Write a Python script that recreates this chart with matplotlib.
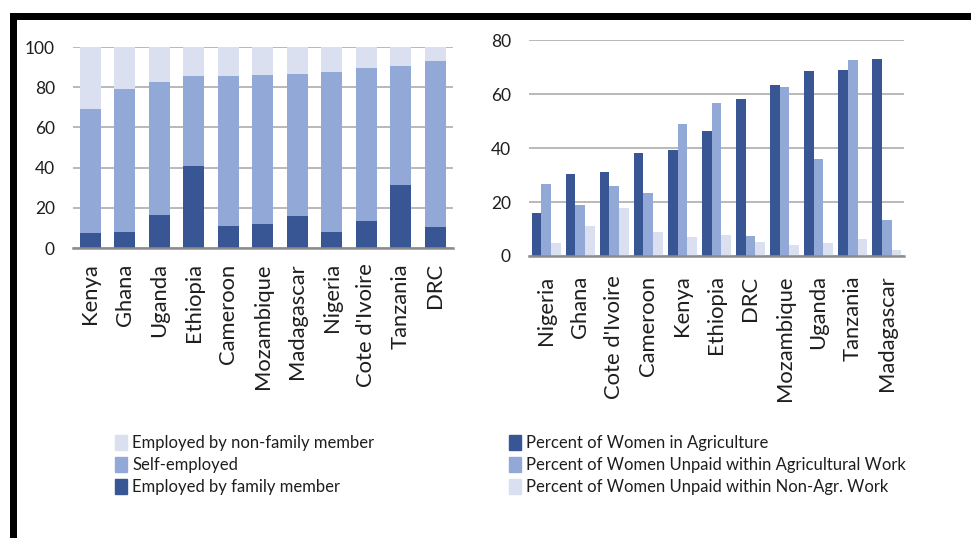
import matplotlib
matplotlib.use("Agg")
import matplotlib.pyplot as plt
import numpy as np
from matplotlib.patches import Rectangle, Patch

plt.rcParams['font.family'] = ['Lato', 'DejaVu Sans']

# Left chart: type of employment (stacked, percent)
pays_gauche = ["Kenya", "Ghana", "Uganda", "Ethiopia", "Cameroon", "Mozambique",
               "Madagascar", "Nigeria", "Cote d'Ivoire", "Tanzania", "DRC"]
par_famille = [7.5, 8, 16.3, 41, 10.8, 12, 15.8, 8, 13.6, 31.4, 10.5]
independant = [61.9, 71.2, 66.4, 44.4, 74.7, 74.2, 70.7, 79.4, 76.1, 59.0, 82.7]
hors_famille = [30.6, 20.8, 17.3, 14.6, 14.5, 13.8, 13.5, 12.6, 10.3, 9.6, 6.8]

# Right chart: grouped bars
pays_droite = ["Nigeria", "Ghana", "Cote d'Ivoire", "Cameroon", "Kenya", "Ethiopia",
               "DRC", "Mozambique", "Uganda", "Tanzania", "Madagascar"]
femmes_agri = [15.8, 30.3, 31.1, 38.3, 39.3, 46.2, 58.1, 63.4, 68.5, 68.9, 73.1]
non_payees_agri = [26.6, 18.8, 26.0, 23.2, 48.8, 56.6, 7.4, 62.5, 36.1, 72.6, 13.2]
non_payees_autre = [4.8, 11.0, 17.7, 9.0, 7.0, 7.9, 5.3, 4.2, 4.8, 6.2, 2.2]

FONCE = "#375693"
MOYEN = "#92A9D8"
CLAIR = "#DAE0F0"
TEXTE = "#1e1e1e"

fig = plt.figure(figsize=(9.71, 5.38), dpi=100)


def style_axe(ax, ymax, pas):
    ax.set_ylim(0, ymax)
    ax.set_xlim(-0.5, 10.5)
    ax.set_yticks(np.arange(0, ymax + 1, pas))
    ax.yaxis.grid(True, color="#a6a6a6", linewidth=1.1)
    ax.set_axisbelow(True)
    for s in ["top", "right", "left"]:
        ax.spines[s].set_visible(False)
    ax.spines["bottom"].set_color("#8c8c8c")
    ax.spines["bottom"].set_linewidth(1.8)
    ax.tick_params(axis="y", length=0, pad=13, labelsize=12.5, colors=TEXTE)
    ax.tick_params(axis="x", length=0, pad=11, labelsize=15.8, colors=TEXTE)


# Graphique de gauche
ax1 = fig.add_axes([0.0752, 0.539, 0.391, 0.3736])
x = np.arange(len(pays_gauche))
ax1.bar(x, par_famille, width=0.61, color=FONCE)
ax1.bar(x, independant, width=0.61, bottom=par_famille, color=MOYEN)
bas = np.array(par_famille) + np.array(independant)
ax1.bar(x, hors_famille, width=0.61, bottom=bas, color=CLAIR)
style_axe(ax1, 100, 20)
ax1.set_xticks(x)
ax1.set_xticklabels(pays_gauche, rotation=90)

# Graphique de droite
ax2 = fig.add_axes([0.5448, 0.5242, 0.386, 0.401])
x2 = np.arange(len(pays_droite))
w = 0.283
ax2.bar(x2 - w, femmes_agri, width=w, color=FONCE)
ax2.bar(x2, non_payees_agri, width=w, color=MOYEN)
ax2.bar(x2 + w, non_payees_autre, width=w, color=CLAIR)
style_axe(ax2, 80, 20)
ax2.set_xticks(x2)
ax2.set_xticklabels(pays_droite, rotation=90)
ax2.tick_params(axis="x", pad=14)

# Légendes
leg_kw = dict(frameon=False, fontsize=12, handlelength=0.75, handleheight=1.05,
              handletextpad=0.3, labelspacing=0.34, borderaxespad=0, labelcolor=TEXTE)
fig.legend(handles=[Patch(color=CLAIR), Patch(color=MOYEN), Patch(color=FONCE)],
           labels=["Employed by non-family member", "Self-employed", "Employed by family member"],
           loc="upper left", bbox_to_anchor=(108 / 971, 1 - 428 / 538), **leg_kw)
fig.legend(handles=[Patch(color=FONCE), Patch(color=MOYEN), Patch(color=CLAIR)],
           labels=["Percent of Women in Agriculture",
                   "Percent of Women Unpaid within Agricultural Work",
                   "Percent of Women Unpaid within Non-Agr. Work"],
           loc="upper left", bbox_to_anchor=(502 / 971, 1 - 428 / 538), **leg_kw)

# Cadre noir (haut et gauche)
fig.add_artist(Rectangle((10 / 971, 1 - 20 / 538), 1, 7 / 538,
                         transform=fig.transFigure, color="black", lw=0))
fig.add_artist(Rectangle((10 / 971, 0), 7 / 971, 1 - 13 / 538,
                         transform=fig.transFigure, color="black", lw=0))

fig.savefig("out.png", dpi=100)
